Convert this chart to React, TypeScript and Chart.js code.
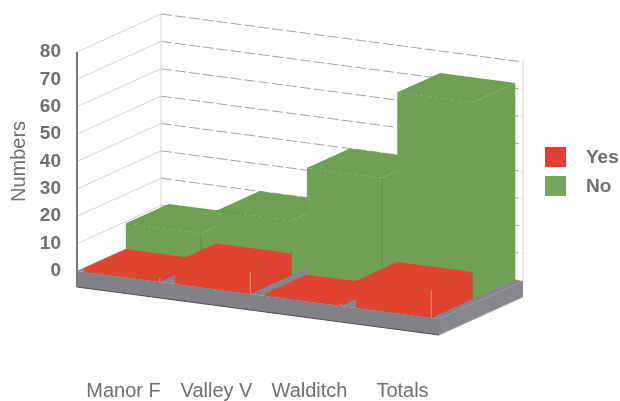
import React, { useEffect, useRef } from "react";
import { Chart, registerables } from "chart.js";

Chart.register(...registerables);

const categories = ["Manor F", "Valley V", "Walditch", "Totals"];
const yesValues = [1.5, 8, 1, 10];
const noValues = [11, 20, 40, 72];
const valueTicks = { min: 0, max: 80, step: 10 };

const RED = "#e0442f";
const GREEN = "#71a156";
const TEXT = "#6f6f73";
const FONT = "'Liberation Sans', Arial, sans-serif";

// oblique projection of the chart's box
const SPAN_X = 362;
const SHEAR = 48;
const DEPTH_X = 84;
const DEPTH_Y = 38;
const SLAB = 16;
const ROWS = [
  { w0: 0, w1: 0.49, edge: "rgba(240,170,110,0.8)", top: "#e0442f", front: "#e0442f", side: "#dd4230" },
  { w0: 0.49, w1: 1, edge: "rgba(70,105,50,0.35)", top: "#6f9f54", front: "#71a156", side: "#71a156" },
];

const project = (chart: any, px: number, py: number, w: number): [number, number] => {
  const a = chart.chartArea;
  const u = (px - a.left) / (a.right - a.left);
  return [a.left + u * SPAN_X + w * DEPTH_X, py + u * SHEAR - w * DEPTH_Y];
};

const poly = (ctx: CanvasRenderingContext2D, pts: [number, number][], fill: string) => {
  ctx.beginPath();
  pts.forEach((p, i) => (i ? ctx.lineTo(p[0], p[1]) : ctx.moveTo(p[0], p[1])));
  ctx.closePath();
  ctx.fillStyle = fill;
  ctx.fill();
};

const line = (ctx: CanvasRenderingContext2D, a: [number, number], b: [number, number]) => {
  ctx.beginPath();
  ctx.moveTo(a[0], a[1]);
  ctx.lineTo(b[0], b[1]);
  ctx.stroke();
};

const box3d = {
  id: "box3d",
  beforeDatasetsDraw(chart: any) {
    const { ctx, chartArea: a, scales } = chart;
    const yS = scales.y;
    const P = (px: number, py: number, w: number) => project(chart, px, py, w);
    const y0 = yS.getPixelForValue(valueTicks.min);
    const yT = yS.getPixelForValue(valueTicks.max);
    ctx.save();

    // walls and gridlines
    ctx.lineWidth = 1;
    yS.ticks.forEach((t: any) => {
      const y = yS.getPixelForValue(t.value);
      ctx.setLineDash([]);
      ctx.strokeStyle = "#d4d4d4";
      line(ctx, P(a.left, y, 0), P(a.left, y, 1));
      ctx.setLineDash([11, 3]);
      ctx.strokeStyle = "#a4a4a4";
      line(ctx, P(a.left, y, 1), P(a.right, y, 1));
    });
    ctx.setLineDash([]);
    ctx.strokeStyle = "#d6d6d6";
    line(ctx, P(a.left, y0, 1), P(a.left, yT, 1));
    line(ctx, P(a.right, y0, 1), P(a.right, yT, 1));

    // floor slab
    const fl = P(a.left, y0, 0);
    const fr = P(a.right, y0, 0);
    const br = P(a.right, y0, 1);
    const bl = P(a.left, y0, 1);
    const down = (p: [number, number]): [number, number] => [p[0], p[1] + SLAB];
    poly(ctx, [fl, fr, br, bl], "#85858b");
    poly(ctx, [fl, fr, down(fr), down(fl)], "#818187");
    poly(ctx, [fr, br, down(br), down(fr)], "#85858b");
    ctx.strokeStyle = "#4c4c50";
    ctx.lineWidth = 1;
    line(ctx, down(fl), down(fr));
    ctx.strokeStyle = "#a9a9ad";
    line(ctx, down(fr), down(br));

    // left axis line
    ctx.strokeStyle = "#77777b";
    ctx.lineWidth = 2;
    line(ctx, P(a.left, y0 + SLAB, 0), P(a.left, yT, 0));

    // bars: back row first, left to right
    [1, 0].forEach((row) => {
      const r = ROWS[row];
      chart.getDatasetMeta(row).data.forEach((el: any) => {
        const xl = el.x - el.width / 2;
        const xr = el.x + el.width / 2;
        const t = el.y;
        const b = el.base;
        const front: [number, number][] = [P(xl, t, r.w0), P(xr, t, r.w0), P(xr, b, r.w0), P(xl, b, r.w0)];
        const side: [number, number][] = [P(xr, t, r.w0), P(xr, t, r.w1), P(xr, b, r.w1), P(xr, b, r.w0)];
        const top: [number, number][] = [P(xl, t, r.w0), P(xr, t, r.w0), P(xr, t, r.w1), P(xl, t, r.w1)];
        poly(ctx, side, r.side);
        poly(ctx, front, r.front);
        poly(ctx, top, r.top);
        ctx.strokeStyle = r.edge;
        ctx.lineWidth = 1;
        line(ctx, P(xr, t, r.w0), P(xr, b, r.w0));
        if (row) {
          ctx.setLineDash([3, 2]);
          line(ctx, P(xl, t, r.w0), P(xr, t, r.w0));
          ctx.setLineDash([]);
        }
      });
    });
    ctx.restore();
    return false;
  },
  afterDraw(chart: any) {
    const { ctx } = chart;
    ctx.save();
    ctx.textBaseline = "middle";
    ctx.textAlign = "left";
    ctx.font = `bold 19px ${FONT}`;
    const swatches = [
      { y: 147, c: "#de4034" },
      { y: 176, c: "#76a55c" },
    ];
    chart.data.datasets.forEach((d: any, i: number) => {
      ctx.fillStyle = swatches[i].c;
      ctx.fillRect(545, swatches[i].y, 21, 20);
      ctx.fillStyle = TEXT;
      ctx.fillText(d.label, 586, swatches[i].y + 11);
    });
    ctx.restore();
  },
};

export default function App() {
  const ref = useRef<HTMLCanvasElement | null>(null);
  useEffect(() => {
    const chart = new Chart(ref.current as HTMLCanvasElement, {
      type: "bar",
      data: {
        labels: categories,
        datasets: [
          { label: "Yes", data: yesValues, backgroundColor: RED, grouped: false, barPercentage: 0.83, categoryPercentage: 1 },
          { label: "No", data: noValues, backgroundColor: GREEN, grouped: false, barPercentage: 0.83, categoryPercentage: 1 },
        ],
      } as any,
      options: {
        responsive: false,
        animation: false,
        layout: { autoPadding: false, padding: { left: 0, right: 171, top: 52, bottom: 0 } },
        plugins: { legend: { display: false }, tooltip: { enabled: false } },
        scales: {
          x: {
            grid: { display: false, drawTicks: false },
            border: { display: false },
            afterFit: (s: any) => { s.height = 130; s.paddingLeft = 0; s.paddingRight = 0; },
            ticks: { color: TEXT, font: { family: FONT, size: 20 }, padding: 108, maxRotation: 0, autoSkip: false },
          },
          y: {
            min: valueTicks.min,
            max: valueTicks.max,
            grid: { display: false, drawTicks: false },
            border: { display: false },
            afterFit: (s: any) => { s.width = 77; s.paddingTop = 0; s.paddingBottom = 0; },
            title: { display: true, text: "Numbers", color: TEXT, font: { family: FONT, size: 20 }, padding: { top: 7, bottom: 0 } },
            ticks: { stepSize: valueTicks.step, color: TEXT, font: { family: FONT, size: 19, weight: "bold" }, padding: 16 },
          },
        },
      } as any,
      plugins: [box3d as any],
    });
    return () => chart.destroy();
  }, []);
  return (
    <div style={{ position: "absolute", left: 0, top: 0, width: 620, height: 401 }}>
      <canvas ref={ref} width={620} height={401} style={{ display: "block" }} />
    </div>
  );
}
